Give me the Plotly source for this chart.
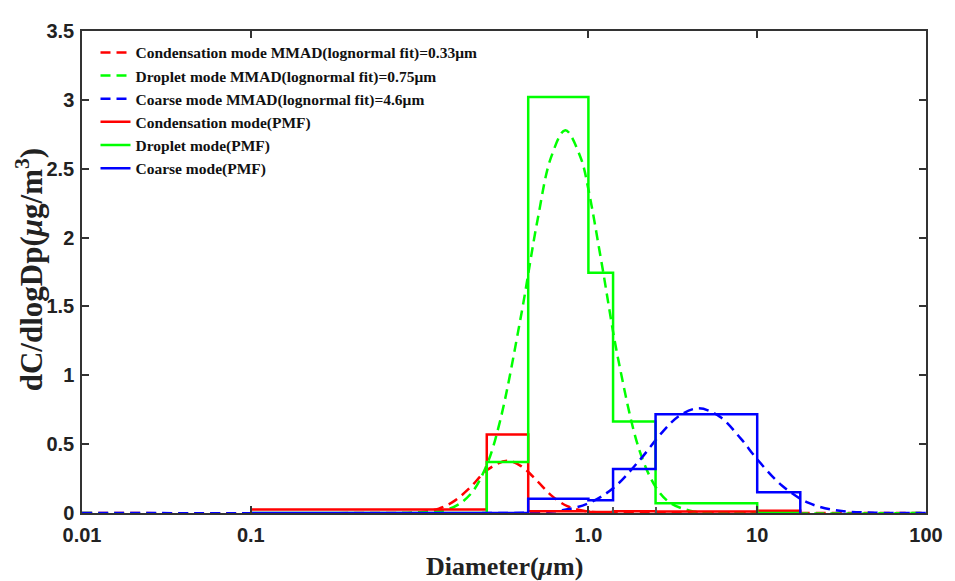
import plotly.graph_objects as go

# PMF size bins (diameter edges, µm) and dC/dlogDp values (last value closes the stairs)
bin_edges = [0.01, 0.25, 0.44, 1.0, 1.4, 2.5, 10, 18]
cond_pmf = [0.025, 0.57, 0.012, 0.008, 0.012, 0.010, 0.016, 0.0]
drop_pmf = [0.0, 0.37, 3.02, 1.745, 0.665, 0.07, 0.0, 0.0]
coarse_pmf = [0.0, 0.0, 0.104, 0.092, 0.32, 0.717, 0.151, 0.0]

# Lognormal fit curves
cond_fit_d = [0.001, 0.05, 0.1, 0.13, 0.16, 0.2, 0.25, 0.33, 0.4, 0.5, 0.6, 0.75, 1.0, 1.3, 2.0, 100]
cond_fit_v = [0.0, 0.0, 0.006, 0.032, 0.086, 0.187, 0.31, 0.38, 0.34, 0.23, 0.13, 0.05, 0.01, 0.002, 0.0, 0.0]

drop_fit_d = [0.001, 0.08, 0.15, 0.2, 0.25, 0.3, 0.4, 0.5, 0.6, 0.73, 0.9, 1.0, 1.2, 1.5, 2.0, 2.5, 3.0, 4.0, 6.0, 100]
drop_fit_v = [0.0, 0.0, 0.03, 0.136, 0.35, 0.67, 1.44, 2.13, 2.58, 2.78, 2.58, 2.35, 1.81, 1.12, 0.46, 0.19, 0.08, 0.017, 0.001, 0.0]

coarse_fit_d = [0.001, 0.3, 0.5, 0.7, 1.0, 1.4, 2.0, 2.8, 3.5, 4.5, 6.0, 8.0, 10, 14, 20, 30, 50, 100]
coarse_fit_v = [0.0, 0.0, 0.005, 0.02, 0.07, 0.18, 0.38, 0.60, 0.71, 0.76, 0.70, 0.54, 0.39, 0.20, 0.075, 0.018, 0.002, 0.0]

x_tickvals = [0.001, 0.01, 1, 10, 100]
x_ticktext = ["0.01", "0.1", "1.0", "10", "100"]
x_edge_ticks = [1.4, 2.5]
y_tickvals = [0, 0.5, 1, 1.5, 2, 2.5, 3, 3.5]
y_ticktext = ["0", "0.5", "1", "1.5", "2", "2.5", "3", "3.5"]

RED, GREEN, BLUE = "#ff0000", "#00ff00", "#0000ff"
DASH = "10px,6px"
LW = 2.5

fig = go.Figure()
fig.add_trace(go.Scatter(x=cond_fit_d, y=cond_fit_v, mode="lines", line_shape="spline",
                         line=dict(color=RED, width=LW, dash=DASH),
                         name="Condensation mode MMAD(lognormal fit)=0.33μm"))
fig.add_trace(go.Scatter(x=drop_fit_d, y=drop_fit_v, mode="lines", line_shape="spline",
                         line=dict(color=GREEN, width=LW, dash=DASH),
                         name="Droplet mode MMAD(lognormal fit)=0.75μm"))
fig.add_trace(go.Scatter(x=coarse_fit_d, y=coarse_fit_v, mode="lines", line_shape="spline",
                         line=dict(color=BLUE, width=LW, dash=DASH),
                         name="Coarse mode MMAD(lognormal fit)=4.6μm"))
fig.add_trace(go.Scatter(x=bin_edges, y=cond_pmf, mode="lines", line_shape="hv",
                         line=dict(color=RED, width=LW), name="Condensation mode(PMF)"))
fig.add_trace(go.Scatter(x=bin_edges, y=drop_pmf, mode="lines", line_shape="hv",
                         line=dict(color=GREEN, width=LW), name="Droplet mode(PMF)"))
fig.add_trace(go.Scatter(x=bin_edges, y=coarse_pmf, mode="lines", line_shape="hv",
                         line=dict(color=BLUE, width=LW), name="Coarse mode(PMF)"))

tickfont = dict(family="Liberation Sans", size=20, color="#222222", weight="bold")
# page body has an 8px margin, so the figure is sized to the visible window area
fig.update_layout(
    width=947, height=573,
    margin=dict(l=74, r=18, t=12, b=68),
    paper_bgcolor="white", plot_bgcolor="white",
    showlegend=True,
    legend=dict(x=0.016, y=0.99, xanchor="left", yanchor="top",
                bgcolor="rgba(0,0,0,0)", borderwidth=0,
                font=dict(family="Liberation Serif", size=15.5, color="#111111", weight="bold"),
                itemwidth=30, tracegroupgap=0),
    xaxis=dict(type="log", range=[-3, 2], tickvals=x_tickvals, ticktext=x_ticktext,
               ticks="inside", ticklen=7, tickcolor="#333333", tickwidth=1.5,
               showline=True, linecolor="#333333", linewidth=1.5, mirror="ticks",
               showgrid=False, zeroline=False, tickfont=tickfont, ticklabelstandoff=3),
    xaxis2=dict(type="log", range=[-3, 2], overlaying="x", side="bottom",
                tickvals=x_edge_ticks, showticklabels=False,
                ticks="inside", ticklen=6, tickcolor="#555555", tickwidth=1.5,
                showline=False, showgrid=False, zeroline=False),
    yaxis=dict(range=[0, 3.5], tickvals=y_tickvals, ticktext=y_ticktext,
               ticks="inside", ticklen=7, tickcolor="#333333", tickwidth=1.5,
               showline=True, linecolor="#333333", linewidth=1.5, mirror="ticks",
               showgrid=False, zeroline=False, tickfont=tickfont, ticklabelstandoff=2),
    font=dict(family="Liberation Sans"),
)
# invisible carrier so xaxis2 is drawn
fig.add_trace(go.Scatter(x=[0.001], y=[None], xaxis="x2", showlegend=False,
                         hoverinfo="skip", mode="lines"))

fig.add_annotation(text="<b>Diameter(<i>μ</i>m)</b>", xref="paper", yref="paper",
                   x=0.5, y=-0.112, xanchor="center", yanchor="middle", showarrow=False,
                   font=dict(family="Liberation Serif", size=26, color="#222222"))
fig.add_annotation(text="<b>dC/dlogDp(<i>μ</i>g/m<sup>3</sup>)</b>", xref="paper", yref="paper",
                   x=-0.062, y=0.505, xanchor="center", yanchor="middle", showarrow=False,
                   textangle=-90,
                   font=dict(family="Liberation Serif", size=31, color="#222222"))

fig.write_html("out.html")
